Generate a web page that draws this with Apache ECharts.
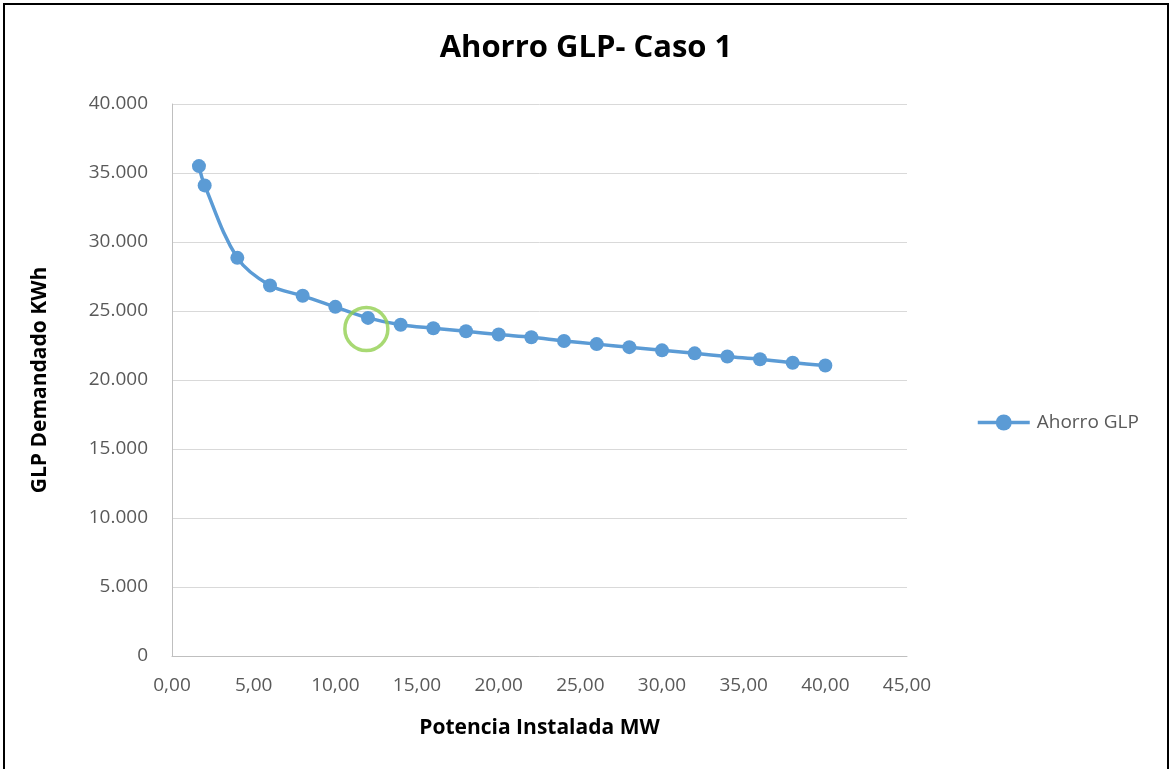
<!DOCTYPE html>
<html>
<head>
<meta charset="utf-8">
<style>
  html, body { margin: 0; padding: 0; background: #fff; }
  #chart { width: 1172px; height: 769px; }
</style>
<script src="https://cdn.jsdelivr.net/npm/echarts@6/dist/echarts.min.js"></script>
</head>
<body>
<div id="chart"></div>
<script>
// Installed power (MW) and LPG demand (kWh)
const potenciaMW = [1.65, 2, 4, 6, 8, 10, 12, 14, 16, 18, 20, 22, 24, 26, 28, 30, 32, 34, 36, 38, 40];
const glpKWh = [35500, 34100, 28850, 26850, 26100, 25300, 24500, 24000, 23750, 23530, 23300, 23100, 22830, 22600, 22380, 22150, 21930, 21700, 21500, 21250, 21050];
// Highlighted operating point
const puntoDestacado = [[11.9, 23700]];

const seriesName = 'Ahorro GLP';
const titulo = 'Ahorro GLP- Caso 1';
const ejeX = 'Potencia Instalada MW';
const ejeY = 'GLP Demandado KWh';

const fontFam = '"Open Sans", "Liberation Sans", sans-serif';

const chart = echarts.init(document.getElementById('chart'), null, { renderer: 'canvas' });

function fmtY(v) {
  if (v === 0) return '0';
  return String(v).replace(/\B(?=(\d{3})+(?!\d))/g, '.');
}

chart.setOption({
  animation: false,
  backgroundColor: '#ffffff',
  title: {
    text: titulo,
    left: 'center',
    top: 28,
    textStyle: { fontFamily: fontFam, fontSize: 31, fontWeight: 'bold', color: '#000' }
  },
  legend: {
    data: [{ name: seriesName }],
    left: 976,
    top: 413,
    padding: 0,
    orient: 'vertical',
    itemWidth: 52,
    itemHeight: 20,
    itemGap: 6,
    lineStyle: { width: 3.5 },
    textStyle: { fontFamily: fontFam, fontSize: 19, color: '#595959', padding: [0, 0, 0, 2] }
  },
  grid: { left: 172, right: 265, top: 104, bottom: 113 },
  xAxis: {
    type: 'value',
    min: 0, max: 45, interval: 5,
    name: ejeX,
    nameLocation: 'middle',
    nameGap: 62,
    nameTextStyle: { fontFamily: fontFam, fontSize: 21, fontWeight: 'bold', color: '#000' },
    axisLine: { show: true, lineStyle: { color: '#bfbfbf', width: 1 } },
    axisTick: { show: false },
    splitLine: { show: false },
    axisLabel: {
      margin: 20,
      fontFamily: fontFam, fontSize: 19, color: '#595959',
      formatter: v => v.toFixed(2).replace('.', ',')
    }
  },
  yAxis: {
    type: 'value',
    min: 0, max: 40000, interval: 5000,
    name: ejeY,
    nameLocation: 'middle',
    nameGap: 121,
    nameTextStyle: { fontFamily: fontFam, fontSize: 21, fontWeight: 'bold', color: '#000' },
    axisLine: { show: true, lineStyle: { color: '#bfbfbf', width: 1 } },
    axisTick: { show: false },
    splitLine: { lineStyle: { color: '#d9d9d9', width: 1 } },
    axisLabel: {
      margin: 24,
      fontFamily: fontFam, fontSize: 19, color: '#595959',
      formatter: fmtY
    }
  },
  series: [
    {
      name: seriesName,
      type: 'line',
      data: potenciaMW.map((x, i) => [x, glpKWh[i]]),
      smooth: 0.35,
      symbol: 'circle',
      symbolSize: 14,
      lineStyle: { color: '#5b9bd5', width: 3.5 },
      itemStyle: { color: '#5b9bd5' },
      z: 3
    },
    {
      name: 'destacado',
      type: 'scatter',
      data: puntoDestacado,
      symbol: 'circle',
      symbolSize: 43,
      itemStyle: { color: 'rgba(0,0,0,0)', borderColor: '#92d050', borderWidth: 3.5 },
      silent: true,
      z: 4
    }
  ],
  graphic: [
    {
      type: 'rect',
      shape: { x: 4, y: 4, width: 1164, height: 770 },
      style: { fill: 'none', stroke: '#000', lineWidth: 2 },
      silent: true
    }
  ]
});
</script>
</body>
</html>
